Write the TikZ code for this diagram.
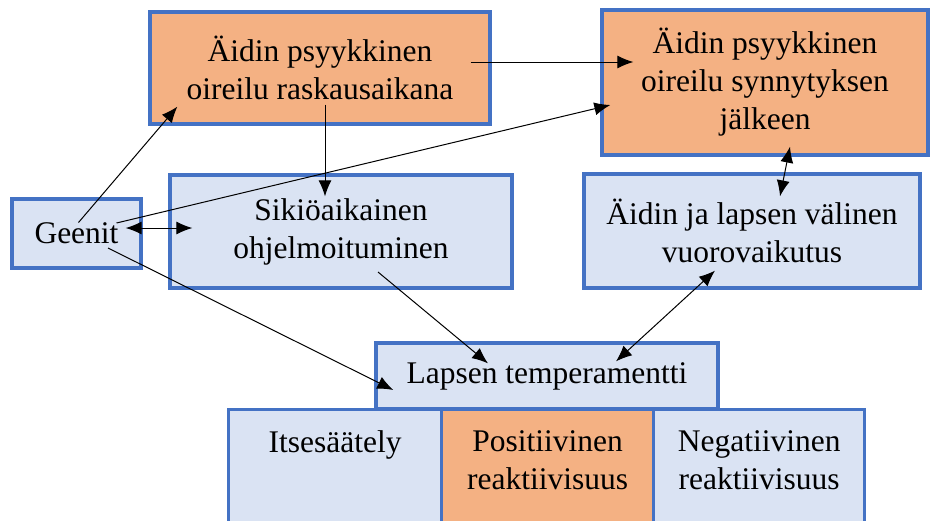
\documentclass[tikz,border=0pt]{standalone}
\usepackage{fontspec}
\setmainfont{Liberation Serif}
\usetikzlibrary{arrows.meta,calc}
\definecolor{boxblue}{HTML}{4472C4}
\definecolor{paleblue}{HTML}{DAE3F3}
\definecolor{peach}{HTML}{F4B183}
\tikzset{
  bluebox/.style={draw=boxblue, line width=3.3pt, fill=paleblue, align=center, inner sep=0pt},
  peachbox/.style={bluebox, fill=peach},
  cell/.style={anchor=north, align=center, inner sep=0pt},
}
\begin{document}
\begin{tikzpicture}[x=1pt,y=-1pt,>={Latex[length=16pt,width=13pt]},line width=1pt,
  font=\fontsize{31.5}{38}\selectfont]
\clip (0,0) rectangle (933,520);

% Upper boxes
\node[peachbox, minimum width=340pt, minimum height=112pt] (raskaus) at (320,68)
  {Äidin psyykkinen\\oireilu raskausaikana};
\node[peachbox, minimum width=326pt, minimum height=145pt] (synny) at (765,82.5)
  {Äidin psyykkinen\\oireilu synnytyksen\\jälkeen};

% Middle boxes
\node[bluebox, minimum width=129pt, minimum height=69pt] (geen) at (76.5,233.5) {Geenit};
\node[bluebox, minimum width=342pt, minimum height=113pt] (siki) at (341,231.5)
  {Sikiöaikainen\\ohjelmoituminen};
\node[bluebox, minimum width=336pt, minimum height=114pt] (vuoro) at (752,231)
  {Äidin ja lapsen välinen\\vuorovaikutus};

% Temperament
\node[bluebox, minimum width=342pt, minimum height=66pt] (temp) at (547,376)
  {Lapsen temperamentti};

% Bottom row
\node[bluebox, minimum width=213pt, minimum height=130pt, anchor=north west] (itse) at (227,408) {};
\node[peachbox, minimum width=212pt, minimum height=130pt, anchor=north west] (posit) at (440,408) {};
\node[bluebox, minimum width=211pt, minimum height=130pt, anchor=north west] (negat) at (652,408) {};
\node[cell] (itsetxt) at ($(itse.north)+(0,22)$) {Itsesäätely};
\node[cell] (posittxt) at ($(posit.north)+(0,22)$) {Positiivinen\\reaktiivisuus};
\node[cell] (negattxt) at ($(negat.north)+(0,22)$) {Negatiivinen\\reaktiivisuus};

% Arrows
\draw[->] ($(geen.center)+(2,-11)$) -- ($(raskaus.south west)+(29,-19)$);
\draw[->] ($(raskaus.south)+(5,-21)$) -- ($(siki.north)+(-16,23)$);
\draw[->] ($(raskaus.east)+(-21,-6)$) -- ($(synny.west)+(33,-20.5)$);
\draw[->] ($(geen.center)+(40,-10.5)$) -- ($(synny.west)+(10,22.5)$);
\draw[<->] ($(geen.east)+(-17,-5.5)$) -- ($(siki.west)+(24,-3.5)$);
\draw[->] ($(geen.center)+(31.5,14.5)$) -- ($(temp.west)+(19,14)$);
\draw[->] ($(siki.center)+(37,40.5)$) -- ($(temp.north)+(-59,22)$);
\draw[<->] ($(synny.south)+(25,-10)$) -- ($(vuoro.north)+(28,24)$);
\draw[<->] ($(vuoro.south)+(-37,-19)$) -- ($(temp.north)+(69,20)$);

\end{tikzpicture}
\end{document}
